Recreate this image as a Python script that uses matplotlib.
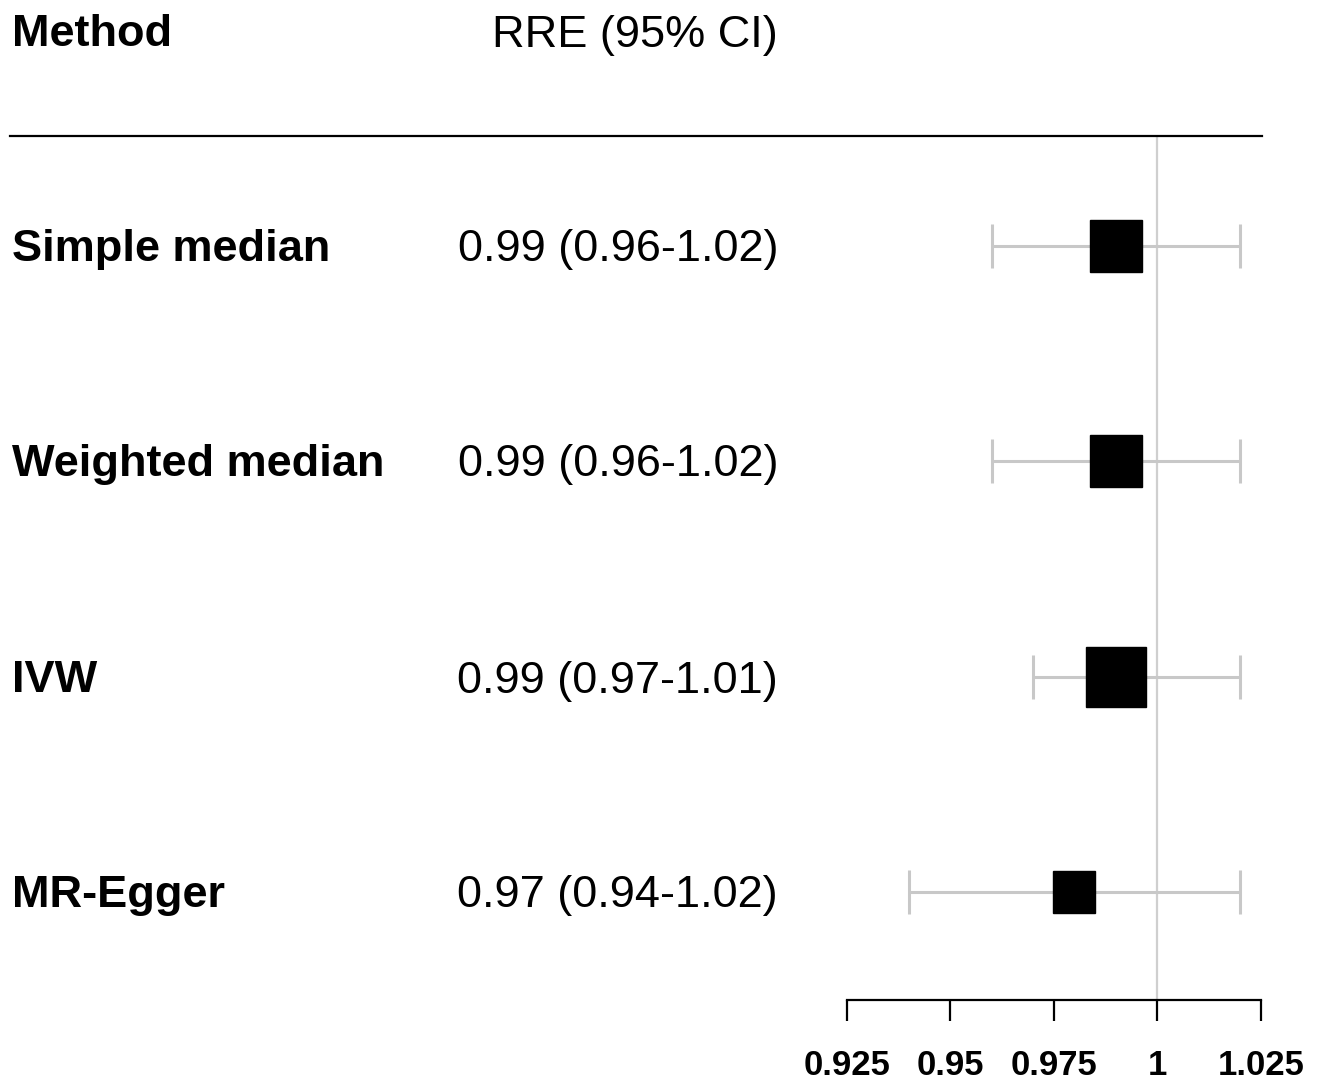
import matplotlib.pyplot as plt
from matplotlib.lines import Line2D

plt.rcParams['font.family'] = ['Liberation Sans', 'DejaVu Sans']

methods = ["Simple median", "Weighted median", "IVW", "MR-Egger"]
est = [0.990, 0.990, 0.990, 0.9798]
lower = [0.96, 0.96, 0.97, 0.94]
upper = [1.02, 1.02, 1.02, 1.02]
ci_text = ["0.99 (0.96-1.02)", "0.99 (0.96-1.02)", "0.99 (0.97-1.01)", "0.97 (0.94-1.02)"]
weights = [53, 53, 60, 43]  # relative box size
xticks = [0.925, 0.95, 0.975, 1, 1.025]
xtick_labels = ["0.925", "0.95", "0.975", "1", "1.025"]

W, H = 1323, 1081
fig = plt.figure(figsize=(W / 100, H / 100), dpi=100)

# forest panel
ax = fig.add_axes([847 / W, 1 - 1000 / H, (1261 - 847) / W, 864 / H])
ax.set_xlim(0.925, 1.025)
ax.set_ylim(0.5, 4.51)
rows = list(range(len(methods), 0, -1))

ax.plot([1, 1], [0.5, 4.51], color='#cfcfcf', lw=1.6, zorder=1)
for y, e, lo, hi, w in zip(rows, est, lower, upper, weights):
    ax.errorbar(e, y, xerr=[[e - lo], [hi - e]], fmt='none', ecolor='#c8c8c8',
                elinewidth=2.2, capsize=16, capthick=2.2, zorder=2)
    ax.plot(e, y, marker='s', color='black', markersize=w * 0.72, zorder=3)

for s in ['top', 'right', 'left']:
    ax.spines[s].set_visible(False)
ax.spines['bottom'].set_bounds(0.925, 1.025)
ax.spines['bottom'].set_linewidth(1.6)
ax.set_yticks([])
ax.set_xticks(xticks)
ax.set_xticklabels(xtick_labels, fontsize=25, fontweight='bold')
ax.tick_params(axis='x', length=15, width=1.6, pad=20)

# header and separator
fig.text(12 / W, 1 - 35 / H, "Method", fontsize=32.5, fontweight='bold', va='center', ha='left')
fig.text(778 / W, 1 - 35 / H, "RRE (95% CI)", fontsize=32.5, va='center', ha='right')
fig.add_artist(Line2D([10 / W, 1262 / W], [1 - 136 / H, 1 - 136 / H], color='black', lw=1.6))

row_px = [249, 465, 681, 896]
for m, t, yp in zip(methods, ci_text, row_px):
    fig.text(12 / W, 1 - yp / H, m, fontsize=32.5, fontweight='bold', va='center', ha='left')
    fig.text(778 / W, 1 - yp / H, t, fontsize=32.5, va='center', ha='right')

fig.savefig("out.png", dpi=100)
